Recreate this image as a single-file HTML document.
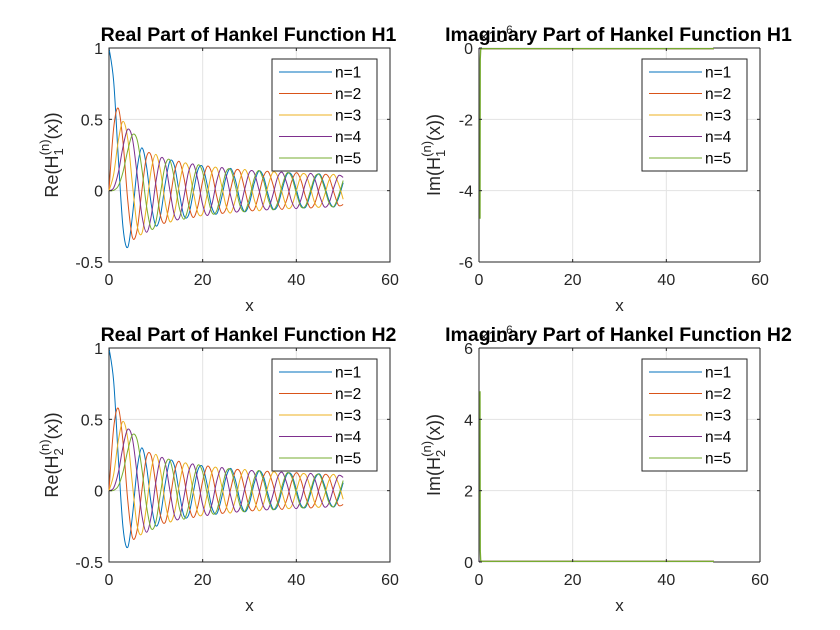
<!DOCTYPE html>
<html><head><meta charset="utf-8"><style>
html,body{margin:0;padding:0;background:#fff}
svg{display:block;font-family:"Liberation Sans",Arial,sans-serif}
</style></head><body>
<svg id="fig" width="840" height="630" viewBox="0 0 840 630" xmlns="http://www.w3.org/2000/svg">
<rect width="840" height="630" fill="#fff"/>
</svg>
<script>
const xs = [0,1,2,3,4,5,6,7,8,9,10,11,12,13,14,15,16,17,18,19,20,21,22,23,24,25,26,27,28,29,30,31,32,33,34,35,36,37,38,39,40,41,42,43,44,45,46,47,48,49,50];
const re1 = [1,0.7652,0.2239,-0.2601,-0.3971,-0.1776,0.1506,0.3001,0.1717,-0.0903,-0.2459,-0.171,0.048,0.207,0.171,-0.014,-0.175,-0.170,-0.013,0.147,0.167,0.037,-0.121,-0.162,-0.056,0.096,0.156,0.073,-0.073,-0.148,-0.086,0.051,0.138,0.097,-0.030,-0.127,-0.106,0.011,0.114,0.111,0.007,-0.101,-0.115,-0.024,0.086,0.116,0.039,-0.071,-0.115,-0.053,0.056];
const re2 = [0,0.4401,0.5767,0.3391,-0.0660,-0.3276,-0.2767,-0.0047,0.2346,0.2453,0.0435,-0.177,-0.223,-0.070,0.133,0.205,0.090,-0.098,-0.188,-0.106,0.067,0.171,0.117,-0.040,-0.154,-0.125,0.015,0.137,0.131,0.007,-0.119,-0.133,-0.027,0.101,0.133,0.044,-0.082,-0.131,-0.059,0.064,0.126,0.072,-0.046,-0.120,-0.083,0.028,0.111,0.091,-0.011,-0.102,-0.097];
const re3 = [0,0.1149,0.3528,0.4861,0.3641,0.0466,-0.2429,-0.3014,-0.1130,0.1448,0.2546,0.138,-0.084,-0.217,-0.151,0.041,0.186,0.158,-0.008,-0.157,-0.160,-0.020,0.131,0.159,0.043,-0.106,-0.155,-0.063,0.082,0.148,0.078,-0.060,-0.140,-0.091,0.038,0.129,0.101,-0.018,-0.117,-0.108,-0.001,0.104,0.112,0.019,-0.090,-0.114,-0.034,0.075,0.114,0.049,-0.060];
const re4 = [0,0.0196,0.1289,0.3091,0.4302,0.3648,0.1148,-0.1676,-0.2911,-0.1809,0.0584,0.223,0.192,0.003,-0.175,-0.192,-0.044,0.134,0.185,0.072,-0.098,-0.174,-0.093,0.067,0.161,0.108,-0.039,-0.145,-0.118,0.014,0.129,0.125,0.009,-0.111,-0.128,-0.029,0.093,0.128,0.047,-0.075,-0.126,-0.062,0.057,0.121,0.075,-0.038,-0.114,-0.085,0.021,0.105,0.093];
const re5 = [0,0.0025,0.0340,0.1320,0.2811,0.3912,0.3576,0.1578,-0.1054,-0.2655,-0.2196,-0.016,0.177,0.214,0.075,-0.117,-0.200,-0.109,0.069,0.179,0.129,-0.029,-0.155,-0.140,-0.003,0.131,0.145,0.030,-0.107,-0.145,-0.052,0.084,0.141,0.071,-0.061,-0.134,-0.085,0.039,0.124,0.096,-0.018,-0.113,-0.104,-0.002,0.100,0.109,0.020,-0.086,-0.111,-0.036,0.071];
const imX = [0.05,0.1,0.2,0.5,1,2,50];
const im1 = [-1.98,-1.53,-1.08,-0.44,0.09,0.51,-0.10];
const im2 = [-12.8,-6.46,-3.32,-1.47,-0.78,-0.11,-0.06];
const im3 = [-509,-127,-32.2,-5.44,-1.65,-0.62,0.10];
const im4 = [-2.04e4,-2553,-319,-20.3,-5.82,-1.13,0.06];
const im5 = [-4.77e6,-3.0e5,-1.9e4,-499,-33.3,-2.77,-0.10];
const seriesNames = ["n=1","n=2","n=3","n=4","n=5"];
const colors = ["#0072BD","#D95319","#EDB120","#7E2F8E","#77AC30"];

const NS="http://www.w3.org/2000/svg";
const fig=document.getElementById('fig');
function mk(tag,attrs,parent){const e=document.createElementNS(NS,tag);for(const k in attrs)e.setAttribute(k,attrs[k]);(parent||fig).appendChild(e);return e;}

function catmull(pts){
  let d="M"+pts[0][0].toFixed(2)+","+pts[0][1].toFixed(2);
  for(let i=0;i<pts.length-1;i++){
    const p0=pts[Math.max(i-1,0)],p1=pts[i],p2=pts[i+1],p3=pts[Math.min(i+2,pts.length-1)];
    const c1=[p1[0]+(p2[0]-p0[0])/6,p1[1]+(p2[1]-p0[1])/6];
    const c2=[p2[0]-(p3[0]-p1[0])/6,p2[1]-(p3[1]-p1[1])/6];
    d+=" C"+c1[0].toFixed(2)+","+c1[1].toFixed(2)+" "+c2[0].toFixed(2)+","+c2[1].toFixed(2)+" "+p2[0].toFixed(2)+","+p2[1].toFixed(2);
  }
  return d;
}

function panel(cfg){
  const g=mk('g',{});
  
  
  const L=cfg.L,T=cfg.T,W=281,H=214;
  const sx=v=>L+v/60*W;
  const sy=v=>T+(cfg.ymax-v)/(cfg.ymax-cfg.ymin)*H;
  mk('rect',{x:L,y:T,width:W,height:H,fill:'#fff'},g);
  [0,20,40,60].forEach(v=>{
    const l=mk('line',{x1:sx(v),x2:sx(v),y1:T,y2:T+H,stroke:'#e3e3e3','stroke-width':1},g);
    
    
  });
  cfg.yticks.forEach(v=>{
    const l=mk('line',{x1:L,x2:L+W,y1:sy(v),y2:sy(v),stroke:'#e3e3e3','stroke-width':1},g);
    
    
  });
  if(!cfg.lineOnTop){
    const box=mk('rect',{x:L,y:T,width:W,height:H,fill:'none',stroke:'#262626','stroke-width':1},g);
    
    
  } else {
    const zeroEdge = cfg.yoff>0 ? T : T+H;
    const otherEdge = cfg.yoff>0 ? T+H : T;
    mk('line',{x1:L+W,x2:L+W,y1:T,y2:T+H,stroke:'#262626'},g);
    mk('line',{x1:L,x2:L+W,y1:otherEdge,y2:otherEdge,stroke:'#262626'},g);
    mk('line',{x1:L,x2:L,y1:T,y2:T+H,stroke:'#262626'},g);
    mk('line',{x1:sx(50),x2:L+W,y1:zeroEdge,y2:zeroEdge,stroke:'#262626'},g);
  }
  cfg.series.forEach((s,i)=>{
    let pts=cfg.x.map((xv,j)=>[sx(xv)+(cfg.lineOnTop?0.8:0),sy(Math.max(cfg.ymin,Math.min(cfg.ymax,s[j])))+(cfg.lineOnTop?cfg.yoff:0)]);
    let d=cfg.smooth?catmull(pts):"M"+pts.map(p=>p[0].toFixed(2)+","+p[1].toFixed(2)).join(" L");
    const p=mk('path',{d:d,fill:'none',stroke:colors[i],'stroke-width':cfg.lineOnTop?1.3:1},g);
    
    
  });
  [0,20,40,60].forEach(v=>{
    mk('line',{x1:sx(v),x2:sx(v),y1:T+H,y2:T+H-3,stroke:'#262626'},g);
    mk('line',{x1:sx(v),x2:sx(v),y1:T,y2:T+3,stroke:'#262626'},g);
    const t=mk('text',{x:sx(v),y:T+H+23,'text-anchor':'middle','font-size':16,fill:'#262626'},g);
    t.textContent=String(v);
    
    
  });
  cfg.yticks.forEach((v,k)=>{
    mk('line',{x1:L,x2:L+3,y1:sy(v),y2:sy(v),stroke:'#262626'},g);
    mk('line',{x1:L+W,x2:L+W-3,y1:sy(v),y2:sy(v),stroke:'#262626'},g);
    const t=mk('text',{x:L-6,y:sy(v)+6,'text-anchor':'end','font-size':16,fill:'#262626'},g);
    t.textContent=cfg.ytickLabels[k];
    
    
  });
  const xl=mk('text',{x:L+W/2,y:T+H+49,'text-anchor':'middle','font-size':17,fill:'#262626'},g);
  xl.textContent='x';
  
  
  const yl=mk('text',{transform:'translate('+(cfg.ylx)+','+(T+H/2)+') rotate(-90)','text-anchor':'middle','font-size':18,fill:'#262626'},g);
  
  
  const a=mk('tspan',{},yl);a.textContent=cfg.ylPrefix+'(H';
  const b=mk('tspan',{dy:5,'font-size':13},yl);b.textContent=cfg.sub;
  const c=mk('tspan',{dx:-7,dy:-14,'font-size':13},yl);c.textContent='(n)';
  const d2=mk('tspan',{dy:9},yl);d2.textContent='(x))';
  if(cfg.exp){
    const e=mk('text',{x:L,y:T-6,'font-size':16,fill:'#262626'},g);
    
    
    const e1=mk('tspan',{},e);e1.textContent='×10';
    const e2=mk('tspan',{dy:-8,'font-size':12},e);e2.textContent='6';
  }
  const tt=mk('text',{x:L+W/2-1,y:T-7,'text-anchor':'middle','font-size':19.5,'font-weight':'bold',fill:'#000'},g);
  tt.textContent=cfg.title;
  
  
  const lx=L+W-118,ly=T+11;
  const lg=mk('g',{},g);
  
  
  mk('rect',{x:lx,y:ly,width:105,height:112,fill:'#fff',stroke:'#262626','stroke-width':1},lg);
  seriesNames.forEach((n,i)=>{
    const yy=ly+13+i*21.5;
    const le=mk('g',{},lg);
    
    
    mk('line',{x1:lx+7,x2:lx+60,y1:yy,y2:yy,stroke:colors[i],'stroke-width':1},le);
    const t=mk('text',{x:lx+63,y:yy+5.5,'font-size':15.5,fill:'#000'},le);
    t.textContent=n;
  });
}

panel({name:'real-h1-chart',L:109,T:48,ymin:-0.5,ymax:1,yticks:[-0.5,0,0.5,1],ytickLabels:['-0.5','0','0.5','1'],x:xs,series:[re1,re2,re3,re4,re5],smooth:true,title:'Real Part of Hankel Function H1',ylPrefix:'Re',sub:'1',ylx:58});
panel({name:'imag-h1-chart',L:479,T:48,ymin:-6e6,ymax:0,yticks:[-6e6,-4e6,-2e6,0],ytickLabels:['-6','-4','-2','0'],x:imX,series:[im1,im2,im3,im4,im5],smooth:false,title:'Imaginary Part of Hankel Function H1',ylPrefix:'Im',sub:'1',ylx:440,exp:true,lineOnTop:true,yoff:0.6});
panel({name:'real-h2-chart',L:109,T:348,ymin:-0.5,ymax:1,yticks:[-0.5,0,0.5,1],ytickLabels:['-0.5','0','0.5','1'],x:xs,series:[re1,re2,re3,re4,re5],smooth:true,title:'Real Part of Hankel Function H2',ylPrefix:'Re',sub:'2',ylx:58});
panel({name:'imag-h2-chart',L:479,T:348,ymin:0,ymax:6e6,yticks:[0,2e6,4e6,6e6],ytickLabels:['0','2','4','6'],x:imX,series:[im1.map(v=>-v),im2.map(v=>-v),im3.map(v=>-v),im4.map(v=>-v),im5.map(v=>-v)],smooth:false,title:'Imaginary Part of Hankel Function H2',ylPrefix:'Im',sub:'2',ylx:440,exp:true,lineOnTop:true,yoff:-0.6});
</script>
</body></html>
